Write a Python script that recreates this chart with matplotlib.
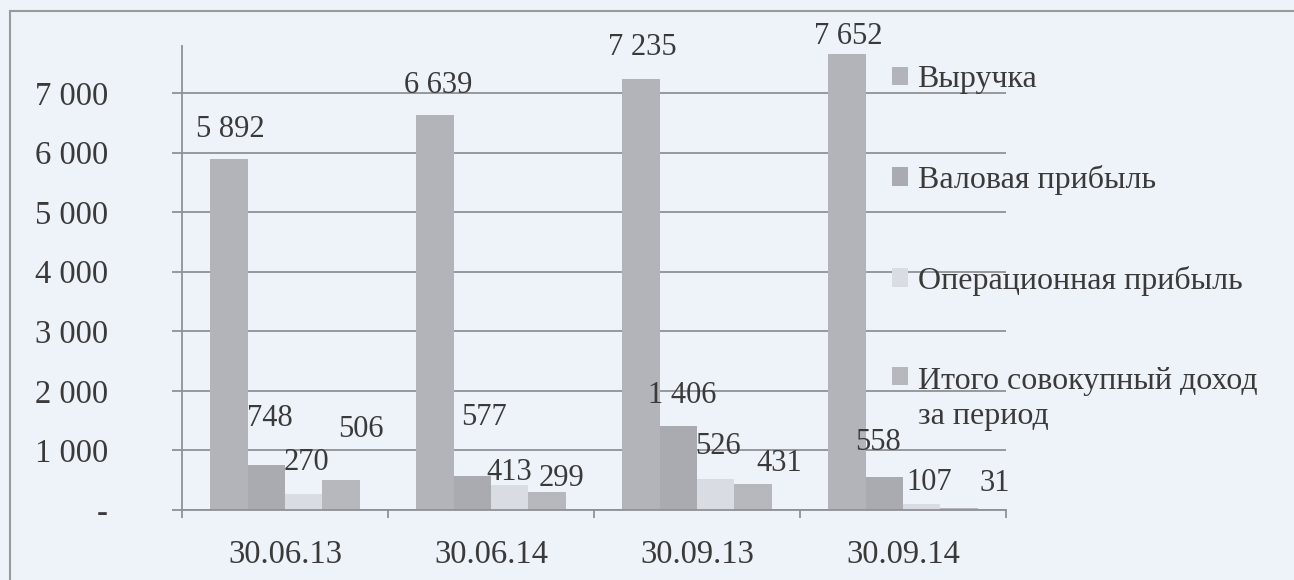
import matplotlib

matplotlib.use("Agg")
import matplotlib.pyplot as plt
import numpy as np
from matplotlib.legend_handler import HandlerPatch
from matplotlib.lines import Line2D
from matplotlib.patches import Rectangle
from matplotlib.ticker import FuncFormatter

# data
DATES = ["30.06.13", "30.06.14", "30.09.13", "30.09.14"]
SERIES_NAMES = [
    "Выручка",
    "Валовая прибыль",
    "Операционная прибыль",
    "Итого совокупный доход\nза период",
]
REVENUE = [5892, 6639, 7235, 7652]
GROSS_PROFIT = [748, 577, 1406, 558]
OPERATING_PROFIT = [270, 413, 526, 107]
TOTAL_INCOME = [506, 299, 431, 31]
Y_TICKS = [0, 1000, 2000, 3000, 4000, 5000, 6000, 7000]

# label nudges (pixels, right / up from the bar top), as placed in the original
LABEL_NUDGE_PX = [
    [(2, 30), (3, 29), (2, 32), (1, 18)],
    [(4, 47), (12, 58), (4, 31), (-6, 34)],
    [(3, 31), (0, 13), (2, 32), (7, 21)],
    [(20, 50), (14, 14), (26, 21), (36, 25)],
]

BG = "#EEF3FA"
BAR_COLORS = ["#B2B4BA", "#A9ABB1", "#D9DCE3", "#B6B8BE"]
GRID = "#8E9196"
TEXT = "#3A3A3A"
W, H = 1294, 580

plt.rcParams["font.family"] = ["Liberation Serif", "DejaVu Serif"]


def fmt_thousands(value, _pos=None):
    if value == 0:
        return "-"
    return f"{int(value):,}".replace(",", " ")


def raised_square(legend, orig_handle, xdescent, ydescent, width, height, fontsize):
    # keep the key level with the first line of a two-line label
    return Rectangle((-xdescent, -ydescent + 0.72 * fontsize), width, height)


fig = plt.figure(figsize=(W / 100, H / 100), dpi=100, facecolor=BG)
ax = fig.add_axes([182 / W, 1 - 510 / H, 824 / W, 464 / H])
ax.set_facecolor("none")

series = [REVENUE, GROSS_PROFIT, OPERATING_PROFIT, TOTAL_INCOME]
x = np.arange(len(DATES))
width = 0.182
bars = []
for k, values in enumerate(series):
    xs = x + (k - 1.5) * width
    bc = ax.bar(xs, values, width=width, color=BAR_COLORS[k], label=SERIES_NAMES[k],
                zorder=2, linewidth=0)
    bars.append(bc)
    for i, v in enumerate(values):
        dx, dy = LABEL_NUDGE_PX[k][i]
        ax.annotate(fmt_thousands(v), xy=(xs[i], v), xytext=(dx * 0.72, dy * 0.72),
                    textcoords="offset points", ha="center", va="center",
                    fontsize=22, color=TEXT, zorder=3)

ax.set_xlim(-0.5, 3.5)
ax.set_ylim(0, 7790)

for side in ("top", "right"):
    ax.spines[side].set_visible(False)
for side in ("left", "bottom"):
    ax.spines[side].set_color(GRID)
    ax.spines[side].set_linewidth(1.3)

ax.set_yticks(Y_TICKS)
ax.yaxis.set_major_formatter(FuncFormatter(fmt_thousands))
ax.yaxis.grid(True, color=GRID, linewidth=1.3)
ax.set_axisbelow(True)
ax.tick_params(axis="y", direction="out", length=7.2, width=1.3, color=GRID,
               pad=46, labelsize=23.5, labelcolor=TEXT)

ax.set_xticks(x)
ax.set_xticklabels(DATES)
ax.set_xticks(np.arange(-0.5, len(DATES)), minor=True)
ax.tick_params(axis="x", which="major", length=0, pad=21, labelsize=23.5,
               labelcolor=TEXT)
ax.tick_params(axis="x", which="minor", direction="out", length=6, width=1.3,
               color=GRID)

handles = [bc.patches[0] for bc in bars]
leg = ax.legend(
    handles, SERIES_NAMES,
    loc="upper left",
    bbox_to_anchor=(892 / W, 1 - 65 / H),
    bbox_transform=fig.transFigure,
    frameon=False,
    fontsize=23,
    labelspacing=2.22,
    handlelength=0.5,
    handleheight=0.5,
    handletextpad=0.3,
    borderpad=0,
    borderaxespad=0,
    handler_map={handles[3]: HandlerPatch(patch_func=raised_square)},
)
for t in leg.get_texts():
    t.set_color(TEXT)
    t.set_linespacing(1.3)

# scanned frame: only the left and top edges fall inside the crop
fig.add_artist(Line2D([10 / W, 10 / W], [0, 1 - 11 / H], color="#9A9A9A", lw=1.5,
                      transform=fig.transFigure))
fig.add_artist(Line2D([10 / W, 1], [1 - 11 / H, 1 - 11 / H], color="#9A9A9A", lw=1.5,
                      transform=fig.transFigure))

fig.savefig("out.png", dpi=100, facecolor=BG)
